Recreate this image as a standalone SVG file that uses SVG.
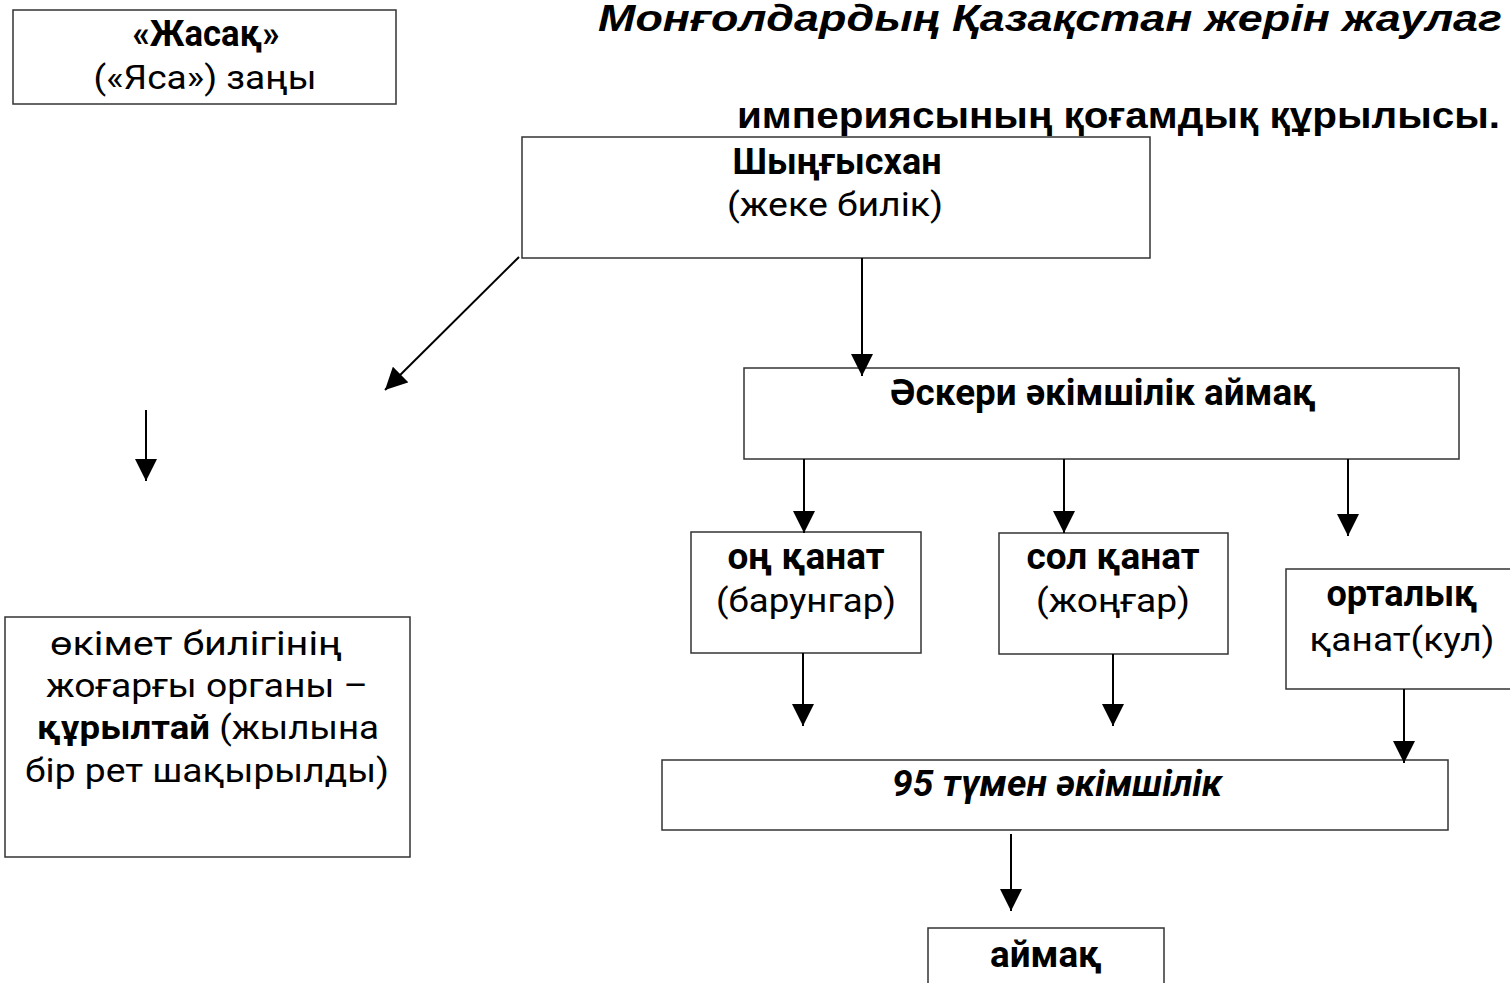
<svg xmlns="http://www.w3.org/2000/svg" width="1510" height="983" viewBox="0 0 1510 983">
<defs>
<marker id="ah" markerWidth="22" markerHeight="22" viewBox="0 0 22 22" refX="22" refY="11" orient="auto" markerUnits="userSpaceOnUse">
<path d="M0,0 L22,11 L0,22 Z" fill="#000"/>
</marker>
<style>
.box{fill:#fff;stroke:#333;stroke-width:1.5}
.t{font-family:Roboto,"Liberation Sans",sans-serif;font-size:33px;fill:#000;text-anchor:middle}
.b{font-weight:bold;font-size:37px}
.title{font-family:"Liberation Sans",Arial,sans-serif;font-weight:bold;font-size:37px;fill:#000}
.c line{stroke:#000;stroke-width:2;marker-end:url(#ah)}
</style>
</defs>
<rect width="1510" height="983" fill="#fff"/>
<g id="title">
<text class="title" x="598" y="31" font-style="italic" textLength="904" lengthAdjust="spacingAndGlyphs">Монғолдардың Қазақстан жерін жаулаг</text>
<text class="title" x="737" y="128" textLength="763" lengthAdjust="spacingAndGlyphs">империясының қоғамдық құрылысы.</text>
</g>
<g id="jasaq">
<rect class="box" x="13" y="10" width="383" height="94"/>
<text class="t b" x="206" y="46" textLength="147" lengthAdjust="spacingAndGlyphs">«Жасақ»</text>
<text class="t" x="205" y="89" textLength="223" lengthAdjust="spacingAndGlyphs">(«Яса») заңы</text>
</g>
<g id="shyngys">
<rect class="box" x="522" y="137" width="628" height="121"/>
<text class="t b" x="837" y="174" textLength="209" lengthAdjust="spacingAndGlyphs">Шыңғысхан</text>
<text class="t" x="835" y="216" textLength="216" lengthAdjust="spacingAndGlyphs">(жеке билік)</text>
</g>
<g id="askeri">
<rect class="box" x="744" y="368" width="715" height="91"/>
<text class="t b" x="1103" y="405" textLength="426" lengthAdjust="spacingAndGlyphs">Әскери әкімшілік аймақ</text>
</g>
<g id="on">
<rect class="box" x="691" y="532" width="230" height="121"/>
<text class="t b" x="806" y="569" textLength="157" lengthAdjust="spacingAndGlyphs">оң қанат</text>
<text class="t" x="806" y="612" textLength="180" lengthAdjust="spacingAndGlyphs">(барунгар)</text>
</g>
<g id="sol">
<rect class="box" x="999" y="533" width="229" height="121"/>
<text class="t b" x="1113" y="569" textLength="173" lengthAdjust="spacingAndGlyphs">сол қанат</text>
<text class="t" x="1113" y="612" textLength="154" lengthAdjust="spacingAndGlyphs">(жоңғар)</text>
</g>
<g id="ortalyq">
<rect class="box" x="1286" y="569" width="230" height="120"/>
<text class="t b" x="1402" y="606" textLength="151" lengthAdjust="spacingAndGlyphs">орталық</text>
<text class="t" x="1402" y="651" textLength="185" lengthAdjust="spacingAndGlyphs">қанат(кул)</text>
</g>
<g id="tumen">
<rect class="box" x="662" y="760" width="786" height="70"/>
<text class="t b" x="1057" y="796" font-style="italic" textLength="330" lengthAdjust="spacingAndGlyphs">95 түмен әкімшілік</text>
</g>
<g id="aimaq">
<rect class="box" x="928" y="928" width="236" height="70"/>
<text class="t b" x="1046" y="967" textLength="112" lengthAdjust="spacingAndGlyphs">аймақ</text>
</g>
<g id="okimet">
<rect class="box" x="5" y="617" width="405" height="240"/>
<text class="t" x="196" y="655" textLength="292" lengthAdjust="spacingAndGlyphs">өкімет билігінің</text>
<text class="t" x="207" y="697" textLength="322" lengthAdjust="spacingAndGlyphs">жоғарғы органы –</text>
<text class="t" x="208" y="739" textLength="342" lengthAdjust="spacingAndGlyphs"><tspan font-weight="bold">құрылтай</tspan> (жылына</text>
<text class="t" x="207" y="782" textLength="364" lengthAdjust="spacingAndGlyphs">бір рет шақырылды)</text>
</g>
<g id="connectors" class="c">
<line x1="519" y1="257" x2="385" y2="390"/>
<line x1="146" y1="410" x2="146" y2="481"/>
<line x1="862" y1="258" x2="862" y2="376"/>
<line x1="804" y1="459" x2="804" y2="533"/>
<line x1="1064" y1="459" x2="1064" y2="533"/>
<line x1="1348" y1="459" x2="1348" y2="536"/>
<line x1="803" y1="653" x2="803" y2="726"/>
<line x1="1113" y1="654" x2="1113" y2="726"/>
<line x1="1404" y1="689" x2="1404" y2="763"/>
<line x1="1011" y1="834" x2="1011" y2="911"/>
</g>
</svg>
